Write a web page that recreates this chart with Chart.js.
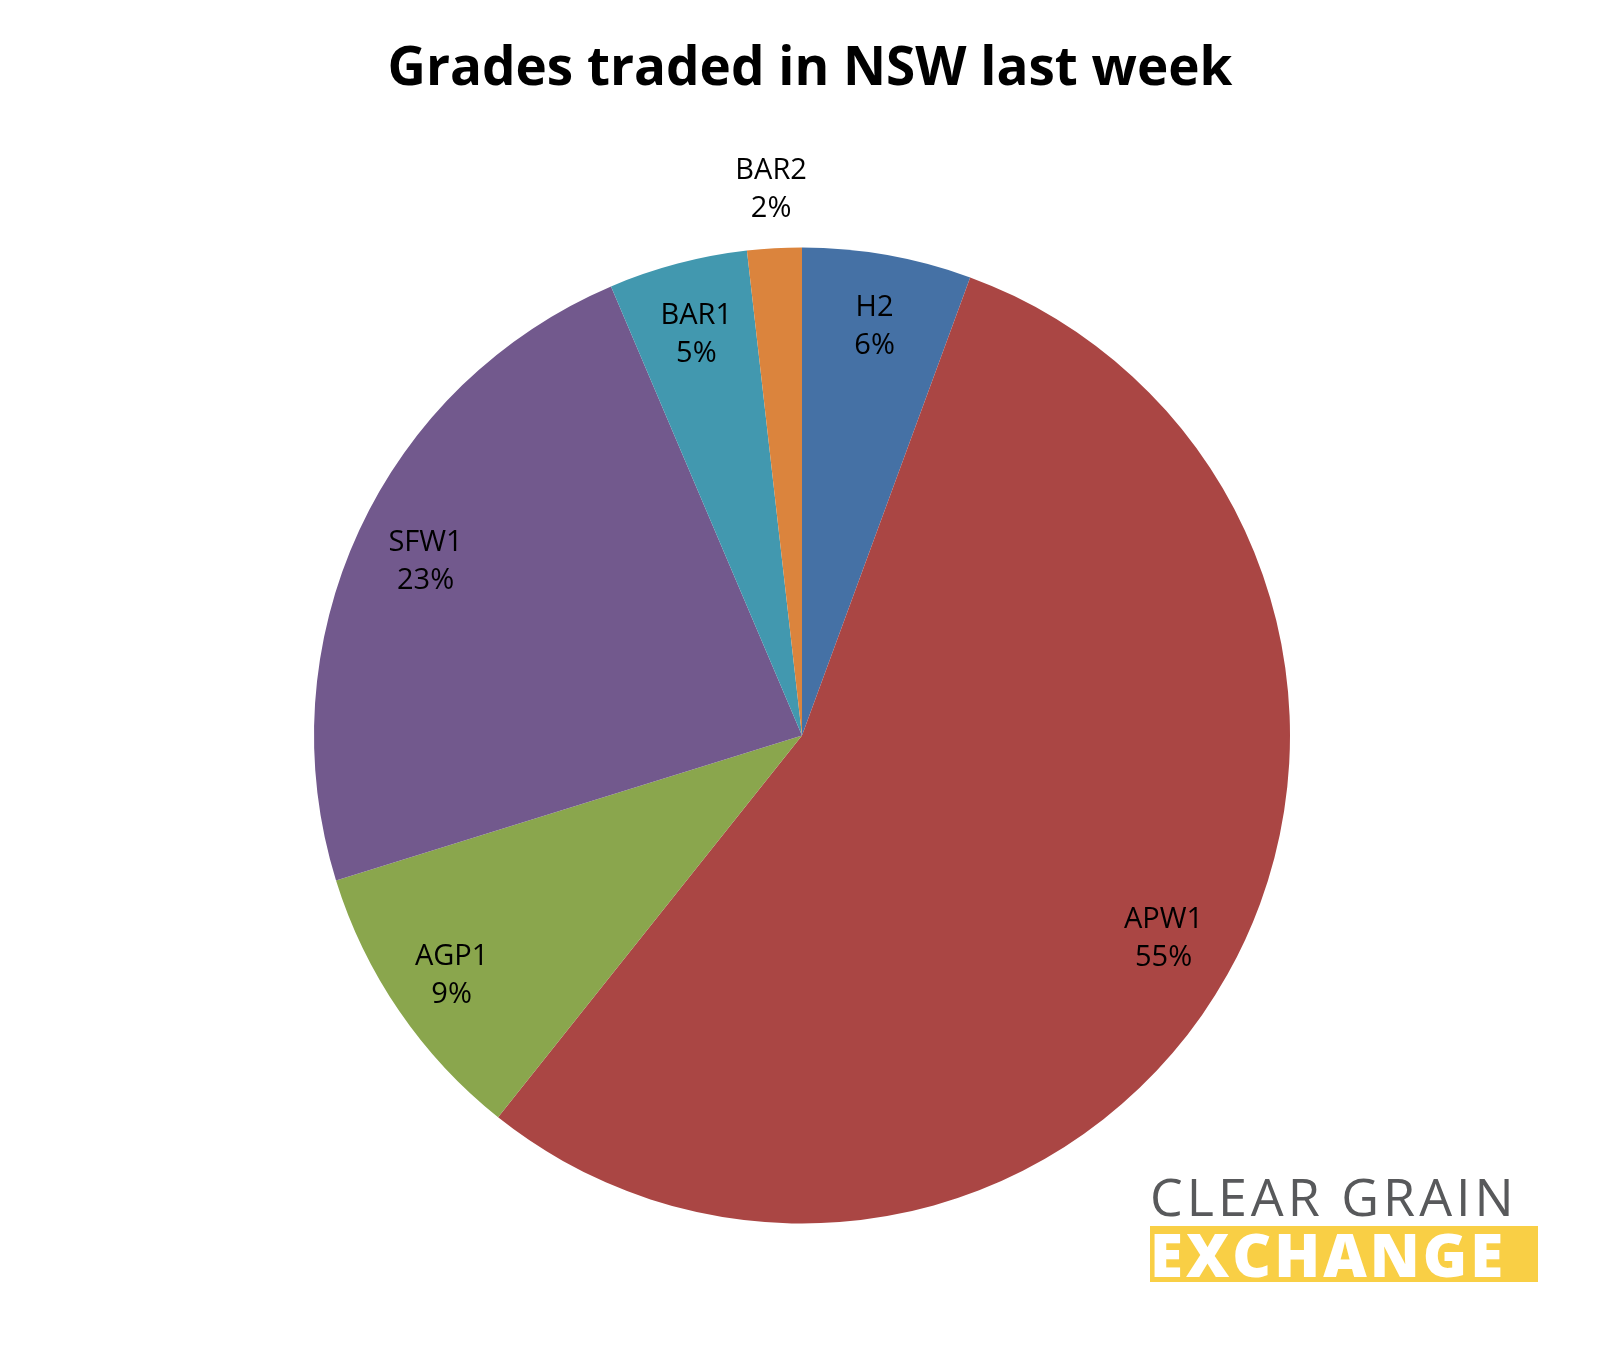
<!DOCTYPE html>
<html><head><meta charset="utf-8">
<script src="https://cdn.jsdelivr.net/npm/chart.js@4"></script>
<style>
body{margin:0;background:#fff;}
#wrap{position:relative;width:1608px;height:1350px;}
#logo{position:absolute;left:1150px;top:1168px;width:388px;font-family:"Open Sans",sans-serif;}
#l1{color:#58595b;font-size:52px;letter-spacing:4px;line-height:56px;white-space:nowrap;}
#l2{background:#f9cf45;color:#fff;font-size:60px;font-weight:800;line-height:56px;letter-spacing:3px;width:388px;margin-top:2px;white-space:nowrap;overflow:hidden;}
</style></head><body>
<div id="wrap"><canvas id="c"></canvas>
<div id="logo"><div id="l1">CLEAR GRAIN</div><div id="l2">EXCHANGE</div></div></div>
<script>
const titleText = "Grades traded in NSW last week";
const categories = ["H2","APW1","AGP1","SFW1","BAR1","BAR2"];
const values = [5.6,55.1,9.5,23.4,4.6,1.8];
const pctLabels = ["6%","55%","9%","23%","5%","2%"];
const colors = ["#4571A5","#AA4644","#8AA64D","#72598D","#4298AF","#DB843D"];
const labelRadius = [0.85,0.85,0.87,0.85,0.85,1.12];

const labelPlugin = {
  id:'lbl',
  afterDraw(chart){
    const ctx = chart.ctx;
    ctx.save();
    ctx.fillStyle='#000';
    ctx.font='bold 53px "Open Sans", sans-serif';
    ctx.textAlign='center';ctx.textBaseline='middle';
    ctx.fillText(titleText, 810, 70);
    ctx.font='29px "Open Sans", sans-serif';
    chart.getDatasetMeta(0).data.forEach((arc,i)=>{
      const a=(arc.startAngle+arc.endAngle)/2;
      const r=arc.outerRadius*labelRadius[i];
      const x=arc.x+Math.cos(a)*r, y=arc.y+Math.sin(a)*r;
      ctx.fillText(categories[i],x,y-19);
      ctx.fillText(pctLabels[i],x,y+19);
    });
    ctx.restore();
  }
};
new Chart(document.getElementById('c'),{
  type:'pie',
  data:{labels:categories,datasets:[{data:values,backgroundColor:colors,borderWidth:0}]},
  options:{responsive:true,maintainAspectRatio:false,animation:false,
    layout:{padding:{left:314,right:318,top:247,bottom:126}},
    plugins:{legend:{display:false},tooltip:{enabled:false},title:{display:false}}},
  plugins:[labelPlugin]
});
</script></body></html>
